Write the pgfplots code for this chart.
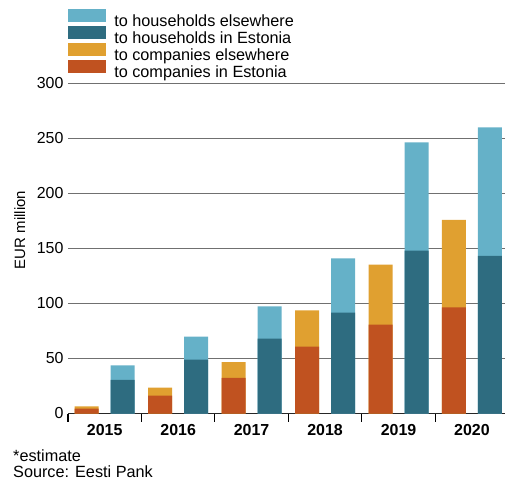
\documentclass[border=0pt]{standalone}
\usepackage{pgfplots}
\pgfplotsset{compat=1.18}
\usepackage{fontspec}
\setmainfont{Liberation Sans}
\definecolor{hhelse}{HTML}{65B1C8}
\definecolor{hhest}{HTML}{2E6C80}
\definecolor{coelse}{HTML}{E0A030}
\definecolor{coest}{HTML}{C05220}
\definecolor{gridc}{HTML}{707070}
\begin{document}
\begin{tikzpicture}
\begin{axis}[
  at={(68bp,-413.5bp)}, anchor=south west,
  scale only axis, width=437bp, height=330bp,
  xmin=-0.5, xmax=5.45, ymin=0, ymax=300,
  axis x line*=bottom, axis y line*=left,
  y axis line style={draw=none},
  x axis line style={draw=black!85, line width=1.2bp},
  ytick={0,50,...,300},
  ytick style={draw=none},
  ymajorgrids, grid style={gridc, line width=1.1bp},
  xtick={-0.5,0.5,...,4.5}, xticklabels={},
  tick align=inside, major tick length=8bp,
  xtick style={black, line width=1.1bp},
  extra x ticks={0,1,2,3,4,5},
  extra x tick labels={2015,2016,2017,2018,2019,2020},
  extra x tick style={major tick length=0pt, tick label style={font=\fontsize{16}{18}\selectfont\bfseries, yshift=-7bp}},
  tick label style={font=\fontsize{16}{18}\selectfont},
  /pgf/number format/assume math mode=true,
  yticklabel style={xshift=-1bp},
  ybar, bar width=24bp,
  legend image code/.code={\fill[#1] (0bp,0bp) rectangle (38bp,12.7bp);},
  legend style={at={(axis description cs:0,1.2248)}, anchor=north west,
    draw=none, fill=none, inner sep=0pt, outer sep=0pt,
    font=\fontsize{16.3}{18}\selectfont,
    nodes={inner sep=0pt, text height=12.7bp, text depth=4.5bp},
    row sep=-4.3bp, column sep=8.3bp},
  legend cell align=left,
]
% companies: total (Estonia + elsewhere), then Estonia on top
\addplot[fill=coelse, draw=none, bar shift=-18bp, forget plot] coordinates {(0,6.5) (1,23.5) (2,46.8) (3,93.8) (4,135.3) (5,176)};
\addplot[fill=coest, draw=none, bar shift=-18bp, forget plot] coordinates {(0,4.4) (1,16.2) (2,32.5) (3,60.7) (4,80.7) (5,96.5)};
% households: total, then Estonia on top
\addplot[fill=hhelse, draw=none, bar shift=18bp, forget plot] coordinates {(0,43.8) (1,69.8) (2,97.5) (3,141) (4,246.5) (5,260.2)};
\addplot[fill=hhest, draw=none, bar shift=18bp, forget plot] coordinates {(0,30.5) (1,48.9) (2,68) (3,91.6) (4,148) (5,143.2)};
\addlegendimage{fill=hhelse, draw=none}
\addlegendentry{to households elsewhere}
\addlegendimage{fill=hhest, draw=none}
\addlegendentry{to households in Estonia}
\addlegendimage{fill=coelse, draw=none}
\addlegendentry{to companies elsewhere}
\addlegendimage{fill=coest, draw=none}
\addlegendentry{to companies in Estonia}
\end{axis}
\node[rotate=90, anchor=base, font=\fontsize{15}{18}\selectfont] at (25bp,-230bp) {EUR million};
\node[anchor=base west, inner sep=0pt, font=\fontsize{16.3}{18}\selectfont] at (13bp,-461bp) {*estimate};
\node[anchor=base west, inner sep=0pt, font=\fontsize{16.3}{18}\selectfont] at (13bp,-477.5bp) {Source: Eesti Pank};
\pgfresetboundingbox
\useasboundingbox (0,0) rectangle (505bp,-482bp);
\end{tikzpicture}
\end{document}
